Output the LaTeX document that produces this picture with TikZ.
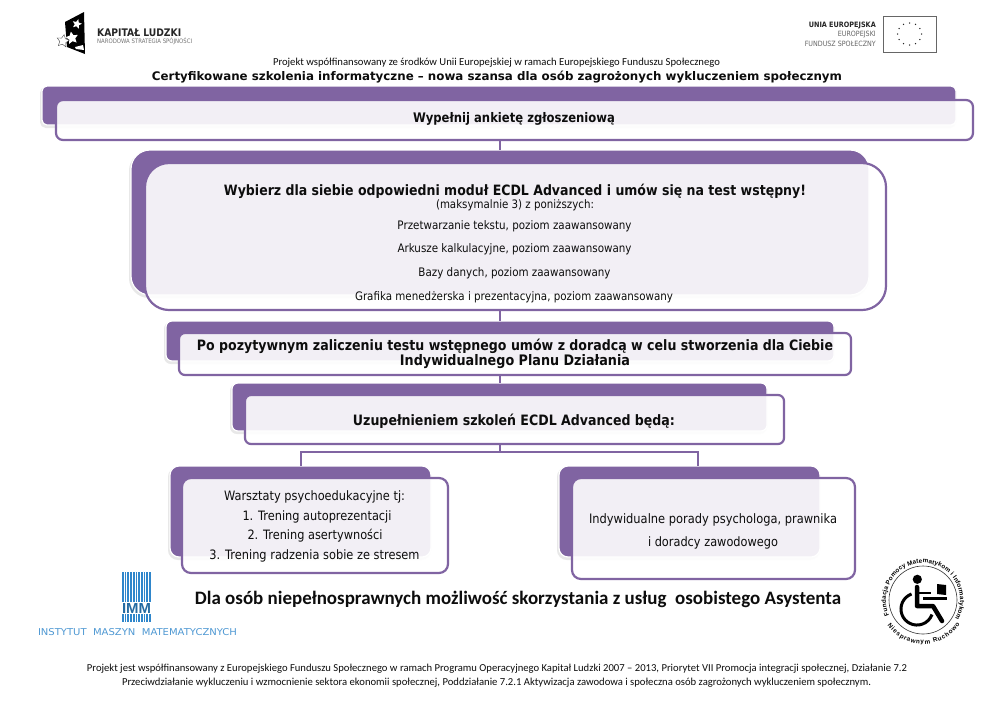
\documentclass[tikz,border=0pt]{standalone}
\usepackage{fontspec}
\setmainfont{Carlito}
\newfontfamily\tah[FakeStretch=0.88]{DejaVu Sans}
\newfontfamily\verd{DejaVu Sans}
\newfontfamily\arl{Liberation Sans}
\usetikzlibrary{shapes.geometric,decorations.text}
\definecolor{purp}{HTML}{8064A2}
\definecolor{immblue}{HTML}{2F86CB}
\newcommand{\fw}[2]{\resizebox{#1pt}{!}{#2}}
\tikzset{
  backbox/.style={rectangle,draw=white,line width=1.2pt,fill=purp,inner sep=0pt},
  frontbox/.style={rectangle,draw=purp,line width=2.2pt,fill=white,fill opacity=.9,inner sep=0pt},
  shadowbox/.style={rectangle,draw=black!9,line width=2pt,fill=black!9,inner sep=0pt},
  link/.style={draw=purp,line width=2.2pt},
  txt/.style={inner sep=0pt,text=black!95,anchor=center,yshift=-1pt},
  btxt/.style={txt,font=\tah\bfseries},
  ntxt/.style={txt,font=\tah}
}
\newcommand{\boxpair}[6]{%
  % name, radius, back x1,x2,y1,y2
  \node[shadowbox,rounded corners=#2pt,minimum width=#4pt-#3pt,minimum height=#6pt-#5pt] (#1s) at ({(#3+#4)/2-1},{(#5+#6)/2+2}) {};
  \node[backbox,rounded corners=#2pt,minimum width=#4pt-#3pt,minimum height=#6pt-#5pt] (#1b) at ({(#3+#4)/2},{(#5+#6)/2}) {};
}
\begin{document}
\begin{tikzpicture}[x=1pt,y=-1pt]
\useasboundingbox (0,0) rectangle (992,702);
\fill[white] (0,0) rectangle (992,702);

% --- Kapital Ludzki logo
\fill[black] (65,22) -- (84,12) -- (85,54) -- (67,47) -- cycle;
\node[star,star points=5,star point ratio=2.2,fill=white,inner sep=0pt,minimum size=10pt,rotate=-15] (klstara) at (77,24) {};
\node[star,star points=5,star point ratio=2,fill=white,inner sep=0pt,minimum size=13pt,rotate=10] (klstarb) at (72,38) {};
\node[star,star points=5,star point ratio=2,draw=black!70,fill=white,line width=.4pt,inner sep=0pt,minimum size=13pt,rotate=-10] (klstarc) at (63,41) {};
\fill[white] (75,47) -- (83,45) -- (84,50) -- (76,49) -- cycle;
\node[inner sep=0pt,anchor=west,text=black!85] (klname) at (97,32.5) {\fw{84}{\bfseries\tah KAPITAŁ LUDZKI}};
\node[inner sep=0pt,anchor=west,text=black!55] (klsub) at (97,41.5) {\fw{95}{\tah NARODOWA STRATEGIA SPÓJNOŚCI}};

% --- EU logo
\node[rectangle,draw=black!60,line width=.8pt,fill=white,inner sep=0pt,minimum width=53pt,minimum height=36pt] (euflag) at (909.5,34) {};
\foreach \a in {0,30,...,330}{\fill[black!85] (euflag.center)+(\a:12 and 11) circle (.75);}
\node[inner sep=0pt,anchor=east,text=black!85] (eua) at (876,25.5) {\fw{67}{\bfseries\tah UNIA EUROPEJSKA}};
\node[inner sep=0pt,anchor=east,text=black!60] (eub) at (876,35) {\fw{38}{\tah EUROPEJSKI}};
\node[inner sep=0pt,anchor=east,text=black!60] (euc) at (876,43.5) {\fw{71}{\tah FUNDUSZ SPOŁECZNY}};

% --- Header
\node[txt] (head) at (496.5,62) {\fw{447}{Projekt współfinansowany ze środków Unii Europejskiej w ramach Europejskiego Funduszu Społecznego}};
\node[txt] (title) at (497,76) {\fw{690}{\verd\bfseries Certyfikowane szkolenia informatyczne – nowa szansa dla osób zagrożonych wykluczeniem społecznym}};

% --- Box backs
\boxpair{a}{5}{42}{956}{86}{125}
\boxpair{c}{19}{131}{869}{150}{295}
\boxpair{d}{6}{166}{834}{321}{361}
\boxpair{e}{6}{232}{767}{383}{431}
\boxpair{f}{9}{170}{431}{466}{557}
\boxpair{g}{9}{559}{820}{466}{557}

% --- Box fronts
\node[frontbox,rounded corners=7pt,minimum width=917pt,minimum height=40pt] (af) at (514.5,120) {};
\node[frontbox,rounded corners=24pt,minimum width=741pt,minimum height=147pt] (cf) at (515.5,236.5) {};
\node[frontbox,rounded corners=6pt,minimum width=672pt,minimum height=42pt] (df) at (515,354) {};
\node[frontbox,rounded corners=6pt,minimum width=539pt,minimum height=49pt] (ef) at (514.5,419.5) {};
\node[frontbox,rounded corners=9pt,minimum width=266pt,minimum height=95pt] (ff) at (315,525.5) {};
\node[frontbox,rounded corners=9pt,minimum width=283pt,minimum height=101pt] (gf) at (713.5,528.5) {};

% --- Connectors
\coordinate (jl) at (301,452);
\coordinate (jr) at (698,452);
\coordinate (c1) at (500,140);
\coordinate (c2) at (500,150);
\coordinate (c3) at (500,310);
\coordinate (c4) at (500,321);
\coordinate (c5) at (500,375);
\coordinate (c6) at (500,383);
\coordinate (c7) at (500,444);
\coordinate (c8) at (500,452);
\coordinate (fb) at (301,466);
\coordinate (gb) at (698,466);
\draw[link] (c1) -- (c2);
\draw[link] (c3) -- (c4);
\draw[link] (c5) -- (c6);
\draw[link] (c7) -- (c8);
\draw[link] (fb) -- (jl) -- (jr) -- (gb);

% --- Box texts
\node[btxt] (ta) at (514,118) {\fw{202}{Wypełnij ankietę zgłoszeniową}};
\node[btxt] (tc1) at (515,190) {\fw{582}{Wybierz dla siebie odpowiedni moduł ECDL Advanced i umów się na test wstępny!}};
\node[ntxt] (tc2) at (515,204) {\fw{158}{(maksymalnie 3) z poniższych:}};
\node[ntxt] (tc3) at (514.5,225) {\fw{234}{Przetwarzanie tekstu, poziom zaawansowany}};
\node[ntxt] (tc4) at (514.5,248) {\fw{234}{Arkusze kalkulacyjne, poziom zaawansowany}};
\node[ntxt] (tc5) at (514.5,272) {\fw{192}{Bazy danych, poziom zaawansowany}};
\node[ntxt] (tc6) at (514,296) {\fw{318}{Grafika menedżerska i prezentacyjna, poziom zaawansowany}};
\node[btxt] (td1) at (515,345) {\fw{636}{Po pozytywnym zaliczeniu testu wstępnego umów z doradcą w celu stworzenia dla Ciebie}};
\node[btxt] (td2) at (515,361) {\fw{230}{Indywidualnego Planu Działania}};
\node[btxt] (te) at (514,420) {\fw{322}{Uzupełnieniem szkoleń ECDL Advanced będą:}};
\node[ntxt] (tf1) at (314.5,496) {\fw{181}{Warsztaty psychoedukacyjne tj:}};
\node[ntxt] (tf2) at (317,516) {\fw{149}{1. Trening autoprezentacji}};
\node[ntxt] (tf3) at (315,535) {\fw{135}{2. Trening asertywności}};
\node[ntxt] (tf4) at (314.5,555) {\fw{210}{3. Trening radzenia sobie ze stresem}};
\node[ntxt] (tg1) at (713,519) {\fw{248}{Indywidualne porady psychologa, prawnika}};
\node[ntxt] (tg2) at (713,542) {\fw{130}{i doradcy zawodowego}};

\node[txt] (note) at (518,598) {\fw{646}{\bfseries Dla osób niepełnosprawnych możliwość skorzystania z usług\ \ osobistego Asystenta}};

% --- IMM logo
\foreach \i in {0,...,10}{
  \fill[immblue] ({122+\i*2.72},572) rectangle ++(1.7,30);
  \fill[immblue] ({122+\i*2.72},614) rectangle ++(1.7,8);
}
\node[inner sep=0pt,text=immblue!80!black] (immlogo) at (136.5,608) {\resizebox{29pt}{10pt}{\arl\bfseries IMM}};
\node[inner sep=0pt,text=immblue!85] (immname) at (137.5,632) {\resizebox{199pt}{7pt}{\verd INSTYTUT\ \ MASZYN\ \ MATEMATYCZNYCH}};

% --- Foundation logo
\coordinate (fc) at (923,600);
\draw[black!80,line width=.6pt] (fc) circle (34);
\fill[black] (917.3,579.3) circle (4.6);
\draw[black,line width=4.5pt,line cap=round,line join=round] (917,587) -- (917,606) -- (933,606) -- (942,621);
\draw[black,line width=2.5pt] (917,593) -- (931,593);
\draw[black,line width=3pt] (911.5,594) arc[start angle=250,end angle=20,radius=16];
\fill[black] (923,597) rectangle (947,600);
\fill[black] (937,584) -- (946,585) -- (946,595) -- (937,594) -- cycle;
\path[postaction={decorate},decoration={text along path,text align={fit to path},
  text={|\fontsize{6.3}{7}\selectfont\arl\bfseries|Fundacja Pomocy Matematykom i Informatykom}}]
  (fc)+(-204:37) arc[start angle=-204,end angle=30,radius=37];
\path[postaction={decorate},decoration={text along path,text align={fit to path},
  text={|\fontsize{6.3}{7}\selectfont\arl\bfseries|Niesprawnym Ruchowo}}]
  (fc)+(-216:44) arc[start angle=-216,end angle=-327,radius=44];

% --- Footer
\node[txt] (foot1) at (497,668) {\fw{820}{Projekt jest współfinansowany z Europejskiego Funduszu Społecznego w ramach Programu Operacyjnego Kapitał Ludzki 2007 – 2013, Priorytet VII Promocja integracji społecznej, Działanie 7.2}};
\node[txt] (foot2) at (496.5,682) {\fw{749}{Przeciwdziałanie wykluczeniu i wzmocnienie sektora ekonomii społecznej, Poddziałanie 7.2.1 Aktywizacja zawodowa i społeczna osób zagrożonych wykluczeniem społecznym.}};
\end{tikzpicture}
\end{document}
